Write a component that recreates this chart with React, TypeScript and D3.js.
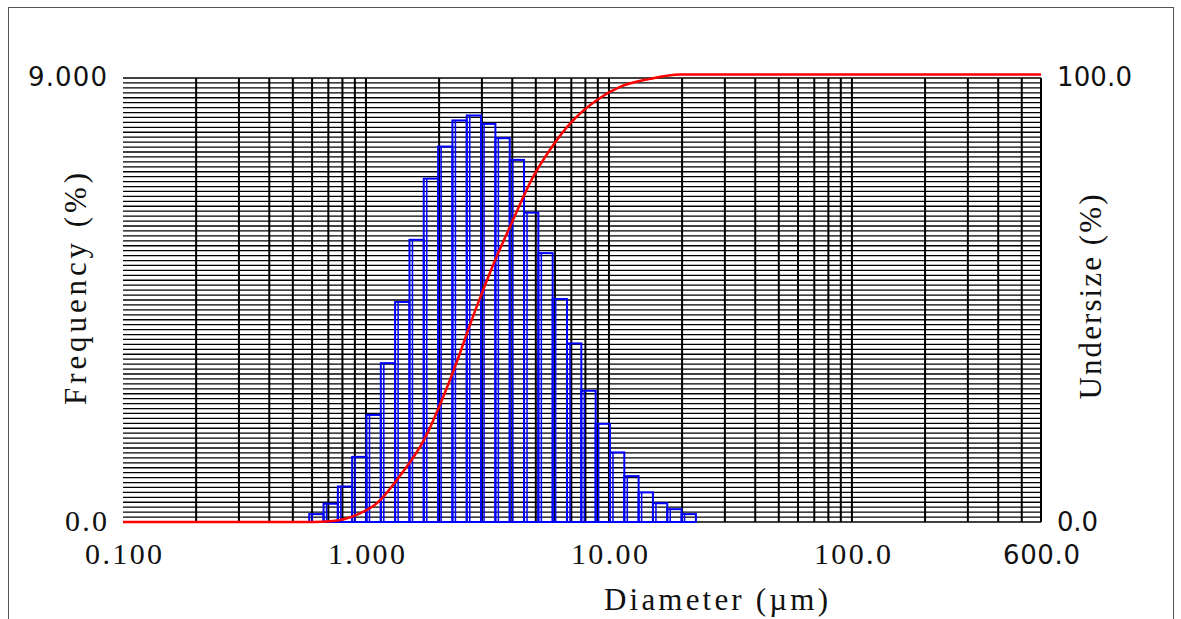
import React from "react";
import * as d3 from "d3";

// Bin edges (µm) of the histogram
const binEdges = [0.584, 0.669, 0.766, 0.877, 1.005, 1.151, 1.318, 1.51, 1.729, 1.981, 2.269, 2.599, 2.976, 3.409, 3.905, 4.472, 5.122, 5.866, 6.719, 7.696, 8.815, 10.097, 11.565, 13.246, 15.172, 17.377, 19.904, 22.797];
// Frequency (%) per bin
const frequency = [0.16, 0.37, 0.72, 1.32, 2.17, 3.22, 4.46, 5.72, 6.96, 7.61, 8.14, 8.24, 8.07, 7.78, 7.34, 6.27, 5.45, 4.52, 3.62, 2.66, 1.99, 1.41, 0.93, 0.6, 0.38, 0.26, 0.16];
// Undersize (cumulative %) curve
const undersizeDiam = [0.1, 0.6, 0.731, 0.915, 1.107, 1.38, 1.733, 2.217, 2.856, 3.45, 3.913, 4.88, 5.71, 7.13, 8.9, 11.1, 14.75, 19.6, 600];
const undersizeVal = [0, 0, 0.2, 1.6, 4.2, 10.4, 18.5, 32.0, 48.5, 59.8, 66.5, 77.8, 83.8, 90.5, 95.0, 98.0, 99.8, 100.8, 100.8];

const xTickValues = [0.1, 1, 10, 100, 600];
const xTickLabels = ["0.100", "1.000", "10.00", "100.0", "600.0"];
const leftTickLabels = ["0.0", "9.000"];
const rightTickLabels = ["0.0", "100.0"];

export default function App() {
  const W = 1181, H = 619;
  const x = d3.scaleLog().domain([0.1, 600]).range([123, 1041]);
  const yL = d3.scaleLinear().domain([0, 9]).range([522, 78]);
  const yR = d3.scaleLinear().domain([0, 100]).range([522, 78]);

  const hLines = d3.range(0, 91).map((i) => i * 0.1);
  const vLines: number[] = [];
  for (const dec of [0.1, 1, 10, 100]) {
    for (let k = 1; k <= 9; k++) {
      const v = dec * k;
      if (v > 0.1001 && v <= 600.0001) vLines.push(v);
    }
  }

  const line = d3
    .line<number>()
    .x((_, i) => x(undersizeDiam[i]))
    .y((d) => yR(d))
    .curve(d3.curveMonotoneX);

  const serif = "'Liberation Serif', 'Times New Roman', serif";
  const sans = "'DejaVu Sans', Verdana, sans-serif";
  const txt = "#111";

  return (
    <svg width={W} height={H} style={{ position: "absolute", left: 0, top: 0, background: "#fff" }}>
      <rect x={8.5} y={7.5} width={1165} height={640} fill="none" stroke="#555" strokeWidth={1} />
      {/* horizontal grid */}
      {hLines.map((v, i) => (
        <line key={"h" + i} x1={123} x2={1041} y1={yL(v)} y2={yL(v)} stroke="#000" strokeWidth={1.3} />
      ))}
      {/* vertical grid */}
      {vLines.map((v, i) => (
        <line key={"v" + i} x1={x(v)} x2={x(v)} y1={78} y2={522} stroke="#000" strokeWidth={2} />
      ))}
      {/* histogram bars */}
      {frequency.map((f, i) => {
        const x0 = x(binEdges[i]);
        const x1 = x(binEdges[i + 1]);
        const yt = yL(f);
        return (
          <g key={"b" + i}>
            <rect x={x0} y={yt} width={x1 - x0} height={yL(0) - yt} fill="none" stroke="#0000ff" strokeWidth={2} />
            <line x1={x0 + 3} x2={x0 + 3} y1={yt} y2={yL(0)} stroke="#0000ff" strokeWidth={1.5} />
          </g>
        );
      })}
      {/* undersize curve */}
      <path d={line(undersizeVal) || ""} fill="none" stroke="#ff0000" strokeWidth={2.5} />
      {/* left axis labels */}
      <text x={107} y={86} textAnchor="end" fontFamily={sans} fontSize={26} fill={txt} textLength={79} lengthAdjust="spacing">{leftTickLabels[1]}</text>
      <text x={107} y={531} textAnchor="end" fontFamily={serif} fontSize={30} fill={txt} textLength={42} lengthAdjust="spacing">{leftTickLabels[0]}</text>
      {/* right axis labels */}
      <text x={1057} y={86} fontFamily={sans} fontSize={26} fill={txt} textLength={75} lengthAdjust="spacing">{rightTickLabels[1]}</text>
      <text x={1057} y={531} fontFamily={sans} fontSize={26} fill={txt} textLength={41} lengthAdjust="spacing">{rightTickLabels[0]}</text>
      {/* x axis labels */}
      {xTickValues.map((v, i) => {
        const isLast = i === xTickValues.length - 1;
        return (
          <text key={"xt" + i} x={x(v) - 38} y={564} fontFamily={isLast ? sans : serif} fontSize={isLast ? 26 : 30} fill={txt} textLength={77} lengthAdjust="spacing">
            {xTickLabels[i]}
          </text>
        );
      })}
      {/* axis titles */}
      <text transform="translate(86,289) rotate(-90)" textAnchor="middle" fontFamily={serif} fontSize={31} fill={txt} textLength={232} lengthAdjust="spacing">Frequency (%)</text>
      <text transform="translate(1101,297) rotate(-90)" textAnchor="middle" fontFamily={serif} fontSize={31} fill={txt} textLength={205} lengthAdjust="spacing">Undersize (%)</text>
      <text x={716} y={610} textAnchor="middle" fontFamily={serif} fontSize={31} fill={txt} textLength={224} lengthAdjust="spacing">Diameter (µm)</text>
    </svg>
  );
}
